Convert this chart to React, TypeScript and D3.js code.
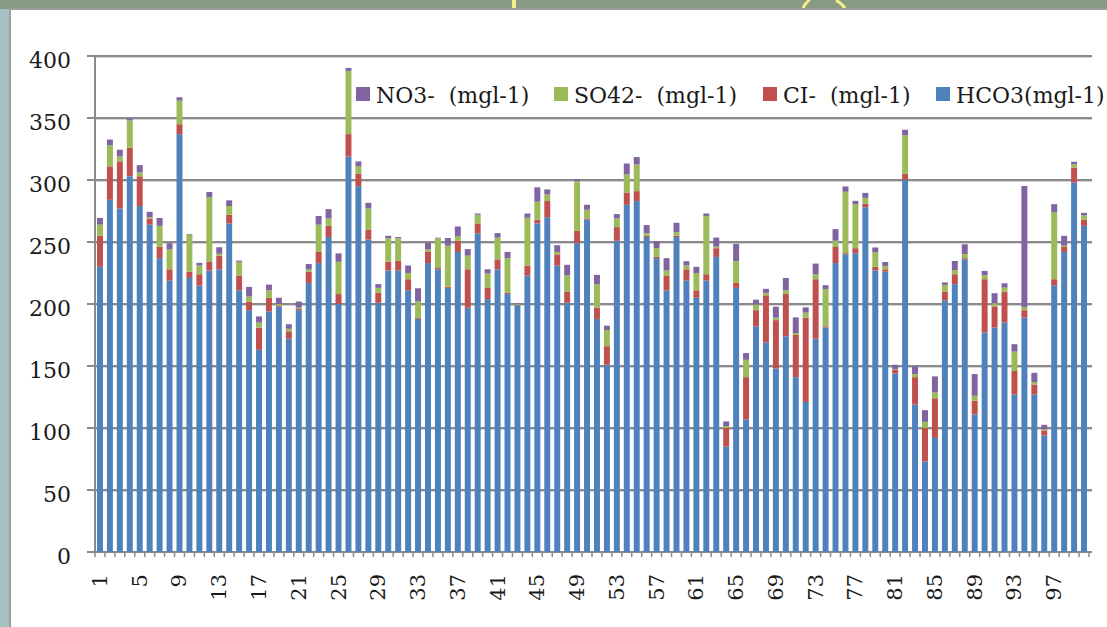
import * as d3 from "d3";

const W = 1107;
const H = 627;

const categories = d3.range(1, 101).map(String);

const hco3 = [
  230, 284, 277, 303, 279, 264, 237, 219, 337, 221,
  215, 227, 228, 265, 211, 195, 163, 194, 198, 172,
  195, 217, 233, 254, 200, 319, 295, 252, 201, 227,
  227, 211, 188, 233, 228, 213, 242, 197, 257, 204,
  228, 208, 199, 223, 265, 270, 231, 201, 249, 268,
  188, 151, 251, 280, 283, 254, 237, 211, 254, 219,
  205, 219, 238, 85, 213, 107, 182, 169, 148, 174,
  141, 121, 172, 181, 233, 240, 241, 278, 227, 226,
  144, 300, 119, 73, 92, 203, 216, 236, 111, 177,
  181, 185, 127, 189, 127, 94, 215, 242, 298, 263,
];

const cl = [
  25, 27, 38, 23, 24, 5, 9, 9, 8, 5,
  9, 7, 11, 7, 12, 7, 18, 11, 1, 6,
  1, 9, 9, 9, 8, 18, 10, 8, 8, 7,
  8, 9, 1, 9, 1, 1, 9, 31, 8, 9,
  8, 1, 0.5, 8, 3, 13, 9, 9, 10, 1,
  9, 15, 11, 10, 8, 1, 1, 12, 1, 9,
  6, 5, 7, 15, 4, 34, 13, 38, 39, 34,
  34, 68, 48, 1, 13, 1, 4, 3, 3, 2,
  3, 5, 22, 27, 32, 7, 8, 1, 11, 43,
  17, 25, 19, 6, 8, 4, 5, 4, 12, 5,
];

const so4 = [
  9, 17, 4, 22, 3, 1, 17, 16, 19, 30,
  7, 52, 1.5, 7, 11, 4, 4, 6, 1, 2,
  1, 2, 22, 6, 26, 51, 6, 17, 4, 19,
  18, 5, 13, 2, 24, 33, 3.5, 11, 7, 11.5,
  17.5, 28, 0.5, 38.5, 14.5, 5.4, 2, 13, 40, 7,
  19, 13, 7, 14.5, 21.5, 2, 7, 4, 3, 3,
  14, 47, 1.3, 1.6, 17.5, 14, 4.5, 2, 2, 3,
  1.6, 4, 4, 30, 5, 49.5, 35.5, 4.6, 11.6, 2.7,
  0.5, 31, 2.4, 5, 4.6, 5.4, 3.2, 3.2, 4, 3.2,
  2.7, 3.2, 15.6, 2.6, 2, 0.8, 54, 1, 2.7, 3.5,
];

const no3 = [
  5.4, 4.6, 5.4, 1.5, 6, 4.3, 6.4, 5, 2.7, 0.5,
  2.2, 4.3, 5.3, 4.6, 1, 7.8, 5, 4.6, 5, 3.7,
  5, 4.3, 7, 7.5, 6.8, 2.4, 4, 4.6, 3, 2,
  1, 6, 10.7, 5.4, 0.5, 6.2, 8, 5.3, 1, 3.5,
  3.7, 5, 0.6, 3.5, 11.6, 4, 5.4, 8.6, 1.8, 4,
  7.5, 3.5, 3.5, 8.8, 6, 6.7, 5.6, 10, 7.5, 3.5,
  5, 2, 7.3, 3.7, 14, 5.4, 4, 3.2, 8.8, 10,
  12.6, 4.3, 8.6, 3.2, 9.4, 4.3, 2.7, 4, 4, 3.2,
  3.5, 4.5, 6.2, 9.4, 13, 2, 7.5, 8, 17.5, 3.5,
  8, 3.5, 6, 97.6, 7.5, 3.8, 6.5, 8, 2, 2,
];

const yTicks = [0, 50, 100, 150, 200, 250, 300, 350, 400];

// stack order bottom -> top
const seriesKeys = ["HCO3(mgl-1)", "CI-  (mgl-1)", "SO42-  (mgl-1)", "NO3-  (mgl-1)"];
const seriesValues = [hco3, cl, so4, no3];
const COLORS = ["#4f81bd", "#c0504d", "#9bbb59", "#8064a2"];

// legend order as shown on the chart (left -> right)
const legendOrder = [3, 2, 1, 0];
const legendX = [356, 554, 763, 936];

const FONT = "'DejaVu Serif', 'Liberation Serif', serif";

const App = () => {
  const plotLeft = 95;
  const plotRight = 1089;
  const plotTop = 56;
  const plotBottom = 552;

  const table = categories.map((c, i) => {
    const row: Record<string, number | string> = { cat: c };
    seriesKeys.forEach((k, s) => (row[k] = seriesValues[s][i]));
    return row;
  });

  const series = d3.stack<any>().keys(seriesKeys)(table);

  const xScale = d3
    .scaleBand()
    .domain(categories)
    .range([plotLeft, plotRight])
    .paddingInner(0.4)
    .paddingOuter(0.2);

  const yScale = d3.scaleLinear().domain([0, 400]).range([plotBottom, plotTop]);

  const step = xScale.step();
  const bw = xScale.bandwidth();

  const grid = yTicks.slice(1).map((v) => (
    <g key={v}>
      <line x1={plotLeft} x2={plotRight + 3} y1={yScale(v) + 1.5} y2={yScale(v) + 1.5} stroke="#d4d4d4" strokeWidth={1} />
      <line x1={plotLeft} x2={plotRight + 3} y1={yScale(v)} y2={yScale(v)} stroke="#8a8a8a" strokeWidth={2} />
    </g>
  ));

  const rects = series.map((s, si) => (
    <g key={s.key} fill={COLORS[si]}>
      {s.map((d, j) => (
        <rect
          key={j}
          x={xScale(categories[j])}
          width={bw}
          y={yScale(d[1])}
          height={Math.max(0, yScale(d[0]) - yScale(d[1]))}
        />
      ))}
    </g>
  ));

  const xTicks = d3.range(categories.length + 1).map((i) => {
    const px = plotLeft + step * xScale.paddingOuter() + i * step - (step - bw) / 2;
    return <line key={i} x1={px} x2={px} y1={plotBottom} y2={plotBottom + 5} stroke="#8a8a8a" strokeWidth={1.5} />;
  });

  const xLabels = categories
    .filter((_, i) => i % 4 === 0)
    .map((c) => {
      const cx = (xScale(c) as number) + bw / 2;
      return (
        <text
          key={c}
          transform={`translate(${cx},574) rotate(-90)`}
          textAnchor="end"
          dominantBaseline="central"
          fontSize={21}
          fontFamily={FONT}
          fill="#1a1a1a"
        >
          {c}
        </text>
      );
    });

  const yLabels = yTicks.map((v) => (
    <g key={v}>
      <line x1={plotLeft - 8} x2={plotLeft} y1={yScale(v)} y2={yScale(v)} stroke="#8a8a8a" strokeWidth={2} />
      <text
        x={71}
        y={yScale(v) + 4}
        textAnchor="end"
        dominantBaseline="central"
        fontSize={22}
        fontFamily={FONT}
        fill="#1a1a1a"
      >
        {v}
      </text>
    </g>
  ));

  const legend = legendOrder.map((si, i) => (
    <g key={si} transform={`translate(${legendX[i]},0)`}>
      <rect x={0} y={87} width={14} height={14} fill={COLORS[si]} />
      <text x={20} y={95} dominantBaseline="central" fontSize={22} fontFamily={FONT} fill="#1a1a1a" xmlSpace="preserve">
        {seriesKeys[si]}
      </text>
    </g>
  ));

  return (
    <svg width={W} height={H} style={{ position: "absolute", left: 0, top: 0 }}>
      {/* slide background around the chart */}
      <rect x={0} y={0} width={W} height={H} fill="#a5c3c7" />
      <rect x={0} y={0} width={W} height={9} fill="#889a84" />
      <rect x={512} y={0} width={4} height={8} fill="#f4f08a" />
      <path d="M803,8 Q806,2 810,0 M836,0 Q842,4 845,8" stroke="#f4f08a" strokeWidth={3} fill="none" />
      <rect x={10} y={9} width={W} height={H} fill="#ffffff" stroke="#9c9c9c" strokeWidth={2} />

      <g>{grid}</g>
      <line x1={plotLeft} x2={plotRight + 3} y1={plotBottom} y2={plotBottom} stroke="#8a8a8a" strokeWidth={2} />
      <g>{rects}</g>
      <line x1={plotLeft} x2={plotLeft} y1={plotTop} y2={plotBottom} stroke="#8a8a8a" strokeWidth={2} />
      <g>{xTicks}</g>
      <g>{yLabels}</g>
      <g>{xLabels}</g>
      <g>{legend}</g>
    </svg>
  );
};

export default App;
